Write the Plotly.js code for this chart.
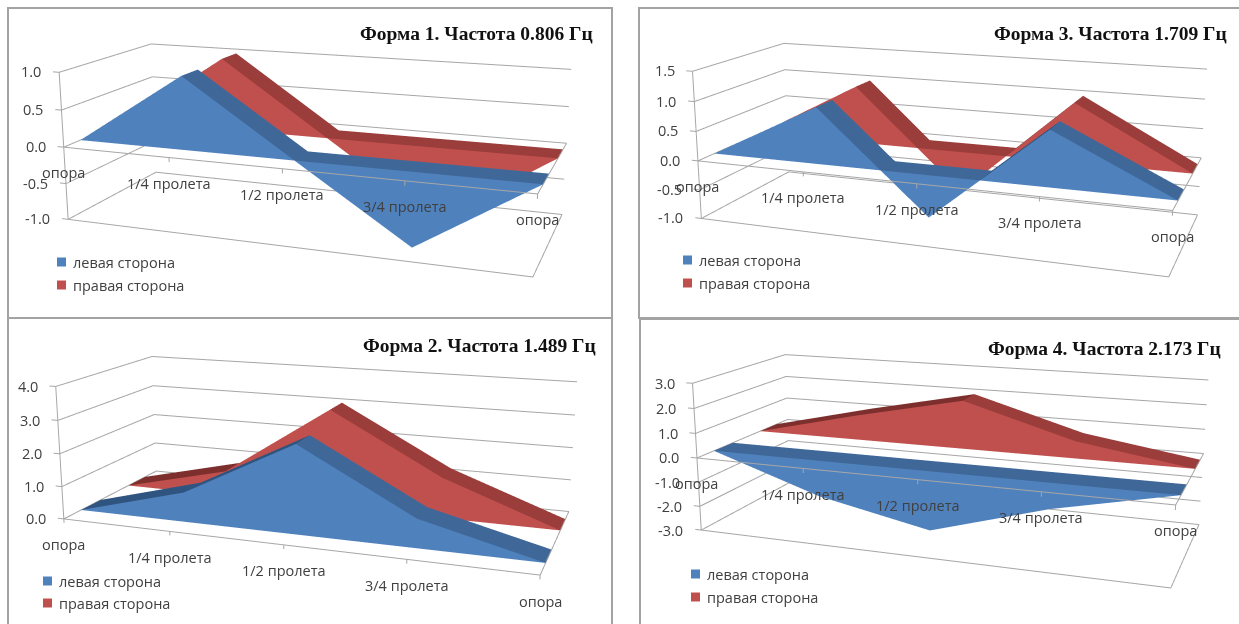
<!DOCTYPE html><html><head><meta charset="utf-8"><script src="https://cdn.plot.ly/plotly-3.0.1.min.js"></script></head><body style="margin:0;background:#fff;overflow:hidden"><div style="position:absolute;left:0;top:0;width:1239px;height:624px;overflow:hidden"><div id="c" style="position:absolute;left:0;top:-300px;width:1239px;height:1230px"></div></div><script>
const cats=['опора','1/4 пролета','1/2 пролета','3/4 пролета','опора'];
const seriesNames=['левая сторона','правая сторона'];
const titles=['Форма 1. Частота 0.806 Гц','Форма 3. Частота 1.709 Гц','Форма 2. Частота 1.489 Гц','Форма 4. Частота 2.173 Гц'];
const form1Left=[0,.98,0,-.97,0], form1Right=[0,1,0,-1,0], form1Ticks=[-1,-.5,0,.5,1];
const form3Left=[0,.95,-.7,.9,0], form3Right=[0,1,-.7,1,0], form3Ticks=[-1,-.5,0,.5,1,1.5];
const form2Left=[0,.9,2.65,.85,0], form2Right=[0,.8,3.05,1.25,0], form2Ticks=[0,1,2,3,4];
const form4Left=[0,-1.45,-2.35,-1,0], form4Right=[0,1.05,2,.7,0], form4Ticks=[-3,-2,-1,0,1,2,3];
const W=1239,H=1230,TOP=300,DH=903;
const px=x=>x/W, py=y=>1-(y+TOP)/H;
const panels=[
 {dom:[8,612],cy:163,zt:form1Ticks,l:form1Left,r:form1Right,title:titles[0],cam:[.7651,-2.1311,.5746,.0373,-.1449,-.0002,.4030,.3228],box:[8,8,612,318],tx:595,ty:33,lg:[57,262,285]},
 {dom:[640,1239],cy:163,zt:form3Ticks,l:form3Left,r:form3Right,title:titles[1],cam:[.7601,-2.1185,.5693,.0001,-.0702,-.0235,.3979,.3216],box:[639,8,1245,318],tx:1229,ty:34,lg:[683,260,283]},
 {dom:[8,612],cy:471.5,zt:form2Ticks,l:form2Left,r:form2Right,title:titles[2],cam:[.7413,-2.1065,.5515,0,-.0574,-.0310,.4186,.2847],box:[8,318,612,640],tx:598,ty:346,lg:[43,581,603]},
 {dom:[640,1239],cy:471.5,zt:form4Ticks,l:form4Left,r:form4Right,title:titles[3],cam:[.7479,-2.1227,.5686,.0008,-.0816,-.0141,.4073,.3198],box:[640,319,1245,640],tx:1223,ty:348,lg:[691,574,597]}
];
const tickFont={family:'Open Sans',size:14.5,color:'#404040'};
function mesh(vals,y0,y1,face,top,dark,name,scene){
 const x=[],y=[],z=[],i=[],j=[],k=[],fc=[];
 const quad=(a,b,c,d,col)=>{const n=x.length;[a,b,c,d].forEach(p=>{x.push(p[0]);y.push(p[1]);z.push(p[2])});i.push(n,n);j.push(n+1,n+2);k.push(n+2,n+3);fc.push(col,col)};
 for(let s=0;s<vals.length-1;s++){
  const a=vals[s],b=vals[s+1];const pieces=[];
  if(a*b<0){const m=s+a/(a-b);pieces.push([s,a,m,0],[m,0,s+1,b])}else pieces.push([s,a,s+1,b]);
  pieces.forEach(([xa,va,xb,vb])=>{
   quad([xa,y0,0],[xa,y0,va],[xb,y0,vb],[xb,y0,0],face);
   const ta=Math.max(va,0),tb=Math.max(vb,0);
   quad([xa,y0,ta],[xb,y0,tb],[xb,y1,tb],[xa,y1,ta],tb>ta?dark:top);
  });
 }
 return {type:'mesh3d',x,y,z,i,j,k,facecolor:fc,flatshading:true,name,scene,hoverinfo:'skip',lighting:{ambient:1,diffuse:0,specular:0,fresnel:0,roughness:1},lightposition:{x:0,y:0,z:1000}};
}
const traces=[],layout={width:W,height:H,margin:{l:0,r:0,t:0,b:0},paper_bgcolor:'#fff',showlegend:false,shapes:[],annotations:[]};
panels.forEach((P,k)=>{const sc=k?'scene'+(k+1):'scene';const lo=P.zt[0],hi=P.zt[P.zt.length-1];
 const p=P.cam;const pd=.1*(hi-lo);const base=Math.max(lo,0);const sceneNotes=[];
 P.zt.forEach(z=>sceneNotes.push({x:0,y:0,z,text:z.toFixed(1),showarrow:false,xanchor:'right',yanchor:'middle',xshift:-16,font:tickFont}));
 cats.forEach((c,n)=>sceneNotes.push({x:n,y:0,z:base,text:c,showarrow:false,xanchor:'center',yanchor:'middle',yshift:-26,font:tickFont}));
 layout[sc]={domain:{x:[px(P.dom[0]),px(P.dom[1])],y:[py(P.cy+DH/2),py(P.cy-DH/2)]},aspectmode:'manual',aspectratio:{x:1.1,y:p[6]*1.2,z:p[7]*1.2},
  camera:{eye:{x:p[0],y:p[1],z:p[2]},center:{x:p[3],y:p[4],z:p[5]},up:{x:0,y:0,z:1},projection:{type:'perspective'}},
  xaxis:{visible:false,range:[-.2,4.2]},yaxis:{visible:false,range:[-.2,2.2]},zaxis:{visible:false,range:[lo-pd,hi+pd]},bgcolor:'rgba(0,0,0,0)',annotations:sceneNotes};
 const lx=[],ly=[],lz=[];const add=(...pts)=>{pts.forEach(a=>{lx.push(a[0]);ly.push(a[1]);lz.push(a[2])});lx.push(null);ly.push(null);lz.push(null)};
 P.zt.forEach(z=>{add([0,0,z],[0,2,z],[4,2,z]);add([-.06,0,z],[0,0,z])});
 add([0,2,lo],[4,2,lo],[4,0,lo],[0,0,lo],[0,0,hi]);
 add([0,0,base],[4,0,base],[4,2,base]);
 cats.forEach((c,n)=>add([n,0,base],[n,0,base-.03*(hi-lo)]));
 traces.push({type:'scatter3d',mode:'lines',x:lx,y:ly,z:lz,line:{color:'#a6a6a6',width:2},scene:sc,hoverinfo:'skip',name:'сетка'});
 traces.push(mesh(P.l,.33,.72,'#4f81bd','#3f6899','#2f5480',seriesNames[0],sc));
 traces.push(mesh(P.r,1.33,1.72,'#c0504d','#9a3d3b','#7d2f2d',seriesNames[1],sc));
 const b=P.box;layout.shapes.push({type:'rect',xref:'paper',yref:'paper',x0:px(b[0]),x1:px(b[2]),y0:py(b[3]),y1:py(b[1]),line:{color:'#a3a3a3',width:2},fillcolor:'rgba(0,0,0,0)'});
 layout.annotations.push({xref:'paper',yref:'paper',x:px(P.tx),y:py(P.ty),text:'<b>'+P.title+'</b>',showarrow:false,xanchor:'right',yanchor:'middle',font:{family:'Liberation Serif',size:19.5,color:'#111'}});
 const [lgx,y1,y2]=P.lg;
 [[y1,'#4f81bd',seriesNames[0]],[y2,'#c0504d',seriesNames[1]]].forEach(([yy,col,nm])=>{
  layout.shapes.push({type:'rect',xref:'paper',yref:'paper',x0:px(lgx),x1:px(lgx+9),y0:py(yy+4.5),y1:py(yy-4.5),fillcolor:col,line:{width:0}});
  layout.annotations.push({xref:'paper',yref:'paper',x:px(lgx+14),y:py(yy),text:nm,showarrow:false,xanchor:'left',yanchor:'middle',font:tickFont});
 });
});
Plotly.newPlot('c',traces,layout,{displayModeBar:false});
</script></body></html>
